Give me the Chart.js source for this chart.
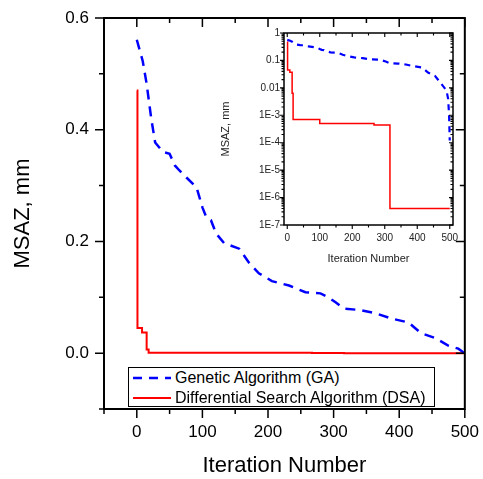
<!DOCTYPE html>
<html>
<head>
<meta charset="utf-8">
<script src="https://cdn.jsdelivr.net/npm/chart.js@4.4.0/dist/chart.umd.min.js"></script>
<style>
  html, body { margin: 0; padding: 0; background: #fff; }
  #wrap { position: relative; width: 483px; height: 479px; overflow: hidden; font-family: "Liberation Sans", Arial, sans-serif; }
  #main { position: absolute; left: 0; top: 0; }
  #inset { position: absolute; left: 205px; top: 20px; }
  #legend { position: absolute; left: 128px; top: 367px; width: 307px; height: 40px; box-sizing: border-box;
            border: 1px solid #000; background: #fff; font-size: 16px; color: #000; }
  .row { position: absolute; left: 0; width: 100%; height: 20px; line-height: 20px; white-space: nowrap; }
  .row svg { position: absolute; left: 4px; top: 8px; }
  .row span { position: absolute; left: 46px; top: 0; }
</style>
</head>
<body>
<div id="wrap">
  <canvas id="main" width="483" height="479"></canvas>
  <canvas id="inset" width="265" height="255"></canvas>
  <div id="legend">
    <div class="row" style="top:0">
      <svg width="38" height="4"><line x1="0" y1="2" x2="38" y2="2" stroke="#0000ff" stroke-width="2.5" stroke-dasharray="9 7"/></svg>
      <span>Genetic Algorithm (GA)</span>
    </div>
    <div class="row" style="top:20px">
      <svg width="38" height="4"><line x1="0" y1="2" x2="38" y2="2" stroke="#ff0000" stroke-width="2"/></svg>
      <span>Differential Search Algorithm (DSA)</span>
    </div>
  </div>
</div>
<script>
/**************** DATA ****************/
const gaIter = [0, 9, 15, 22, 28, 40, 50, 58, 65, 76, 91, 100, 106, 113, 121, 133, 156, 171, 186, 206,
                232, 257, 280, 292, 303, 315, 341, 365, 388, 414, 424, 433, 455, 474, 490, 495, 498, 500];
const gaMsaz = [0.561, 0.523, 0.482, 0.42, 0.377, 0.36, 0.357, 0.336, 0.327, 0.314, 0.297, 0.261, 0.243, 0.238,
                0.214, 0.197, 0.187, 0.162, 0.143, 0.129, 0.121, 0.109, 0.107, 0.100, 0.091, 0.080, 0.077,
                0.071, 0.062, 0.055, 0.045, 0.036, 0.027, 0.014, 0.008, 0.004, 0.001, 0.00012];

// DSA is a step curve: each value holds until the next iteration listed
const dsaIter = [0, 1, 8, 15, 18, 100, 267, 316, 500];
const dsaMsaz = [0.47, 0.045, 0.037, 0.0063, 0.0007, 0.0005, 0.00044, 4e-7, 4e-7];

const mainXTicks = [-50, 0, 50, 100, 150, 200, 250, 300, 350, 400, 450, 500];
const mainXLabelled = [0, 100, 200, 300, 400, 500];
const mainYTicks = [-0.1, 0, 0.1, 0.2, 0.3, 0.4, 0.5, 0.6];
const mainYLabelled = [0, 0.2, 0.4, 0.6];

const insetXTicks = [0, 50, 100, 150, 200, 250, 300, 350, 400, 450, 500];
const insetXLabelled = [0, 100, 200, 300, 400, 500];
const insetDecades = [-7, -6, -5, -4, -3, -2, -1, 0];

const FONT = "'Liberation Sans', Arial, sans-serif";

/**************** HELPERS ****************/
const near = (list, v) => list.some(m => Math.abs(m - v) < 1e-9);
const isDecade = v => Math.abs(Math.log10(v) - Math.round(Math.log10(v))) < 1e-6;

function logLabel(v) {
  if (!isDecade(v)) return '';
  const e = Math.round(Math.log10(v));
  if (e === 0) return '1';
  if (e >= -2) return v.toFixed(-e);
  return '1E' + e;
}

// box round the plot, ticks out on left/bottom, in on top/right
function frame(id, isMajorX, isMajorY, major, minor, boxWidth) {
  return {
    id,
    afterDatasetsDraw(chart) {
      const {ctx, chartArea: a} = chart;
      const sx = chart.scales.x, sy = chart.scales.y;
      ctx.save();
      ctx.strokeStyle = '#000';
      ctx.lineWidth = boxWidth * 0.75;
      ctx.beginPath();
      sx.ticks.forEach(t => {
        const p = sx.getPixelForValue(t.value);
        const n = isMajorX(t.value) ? major : minor;
        ctx.moveTo(p, a.bottom); ctx.lineTo(p, a.bottom + n);
        ctx.moveTo(p, a.top); ctx.lineTo(p, a.top + n);
      });
      sy.ticks.forEach(t => {
        const p = sy.getPixelForValue(t.value);
        const n = isMajorY(t.value) ? major : minor;
        ctx.moveTo(a.left, p); ctx.lineTo(a.left - n, p);
        ctx.moveTo(a.right, p); ctx.lineTo(a.right - n, p);
      });
      ctx.stroke();
      ctx.lineWidth = boxWidth;
      ctx.strokeRect(a.left, a.top, a.right - a.left, a.bottom - a.top);
      ctx.restore();
    }
  };
}

const toPts = (xs, ys) => xs.map((x, i) => ({x, y: ys[i]}));

function datasets(gaWidth, gaDash, dsaWidth) {
  return [
    { label: 'Genetic Algorithm (GA)', data: toPts(gaIter, gaMsaz), borderColor: '#0000ff',
      borderWidth: gaWidth, borderDash: gaDash, pointRadius: 0, fill: false, tension: 0 },
    { label: 'Differential Search Algorithm (DSA)', data: toPts(dsaIter, dsaMsaz), borderColor: '#ff0000',
      borderWidth: dsaWidth, pointRadius: 0, fill: false, stepped: 'before' }
  ];
}

const hiddenGrid = (len) => ({ display: true, drawOnChartArea: false, drawTicks: true, tickLength: len, color: 'rgba(0,0,0,0)' });

/**************** MAIN CHART ****************/
new Chart(document.getElementById('main'), {
  type: 'line',
  data: { datasets: datasets(2.5, [10, 7], 2) },
  options: {
    responsive: false, animation: false, devicePixelRatio: 1,
    layout: { padding: { top: 18, right: 16, left: 0, bottom: 0 } },
    plugins: { legend: { display: false }, tooltip: { enabled: false } },
    scales: {
      x: {
        type: 'linear', min: -50, max: 500,
        afterBuildTicks: s => { s.ticks = mainXTicks.map(v => ({value: v})); },
        afterFit: s => { s.height = 70; },
        grid: hiddenGrid(9), border: { display: false },
        ticks: { autoSkip: false, maxRotation: 0, padding: 4, color: '#000', font: { family: FONT, size: 17 },
                 callback: v => near(mainXLabelled, v) ? String(Math.round(v)) : '' },
        title: { display: true, text: 'Iteration Number', color: '#000', font: { family: FONT, size: 22 },
                 padding: { top: 0, bottom: 0 } }
      },
      y: {
        type: 'linear', min: -0.1, max: 0.6,
        afterBuildTicks: s => { s.ticks = mainYTicks.map(v => ({value: v})); },
        afterFit: s => { s.width = 104; },
        grid: hiddenGrid(9), border: { display: false },
        ticks: { autoSkip: false, padding: 6, color: '#000', font: { family: FONT, size: 17 },
                 callback: v => near(mainYLabelled, v) ? v.toFixed(1) : '' },
        title: { display: true, text: 'MSAZ, mm', color: '#000', font: { family: FONT, size: 22 },
                 padding: { top: 10, bottom: 0 } }
      }
    }
  },
  plugins: [frame('mainFrame', v => near(mainXLabelled, v), v => near(mainYLabelled, v), 9, 5, 2)]
});

/**************** INSET (LOG) ****************/
const logTicks = [];
insetDecades.forEach(e => {
  for (let m = 1; m <= 9; m++) {
    const v = m * Math.pow(10, e);
    if (v <= 1.0000001) logTicks.push(v);
  }
});

new Chart(document.getElementById('inset'), {
  type: 'line',
  data: { datasets: datasets(2.2, [6, 5], 1.5) },
  options: {
    responsive: false, animation: false, devicePixelRatio: 1,
    layout: { padding: { top: 13, right: 17, left: 0, bottom: 0 } },
    plugins: { legend: { display: false }, tooltip: { enabled: false } },
    scales: {
      x: {
        type: 'linear', min: -10, max: 510,
        afterBuildTicks: s => { s.ticks = insetXTicks.map(v => ({value: v})); },
        afterFit: s => { s.height = 50; },
        grid: hiddenGrid(4), border: { display: false },
        ticks: { autoSkip: false, maxRotation: 0, padding: 3, color: '#222', font: { family: FONT, size: 10 },
                 callback: v => near(insetXLabelled, v) ? String(Math.round(v)) : '' },
        title: { display: true, text: 'Iteration Number', color: '#222', font: { family: FONT, size: 11 },
                 padding: { top: 0, bottom: 9 } }
      },
      y: {
        type: 'logarithmic', min: 1e-7, max: 1,
        afterBuildTicks: s => { s.ticks = logTicks.map(v => ({value: v})); },
        afterFit: s => { s.width = 79; },
        grid: hiddenGrid(3), border: { display: false },
        ticks: { autoSkip: false, padding: 1, color: '#222', font: { family: FONT, size: 10 },
                 callback: v => logLabel(v) },
        title: { display: true, text: 'MSAZ, mm', color: '#222', font: { family: FONT, size: 11 },
                 padding: { top: 14, bottom: 0 } }
      }
    }
  },
  plugins: [frame('insetFrame', v => near(insetXLabelled, v), isDecade, 4, 2.5, 1.5)]
});
</script>
</body>
</html>
